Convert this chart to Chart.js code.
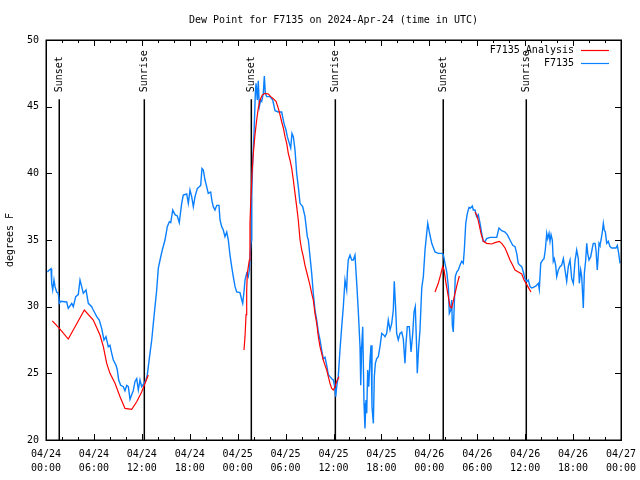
<!DOCTYPE html>
<html>
<head>
<meta charset="utf-8">
<script src="https://cdn.jsdelivr.net/npm/chart.js@4.4.1/dist/chart.umd.min.js"></script>
<style>
  html, body { margin: 0; padding: 0; background: #fff; }
  #wrap { width: 640px; height: 480px; }
</style>
</head>
<body>
<div id="wrap"><canvas id="myChart" width="640" height="480"></canvas></div>
<script>
// hours since 2024-04-24 00:00 UTC
const obsHours = [0.16,0.41,0.63,0.71,0.84,1.00,1.13,1.34,1.54,1.67,1.84,2.59,2.79,3.22,3.42,3.72,4.04,4.26,4.47,4.67,5.01,5.30,5.72,5.92,6.35,6.67,6.97,7.26,7.51,7.80,8.01,8.23,8.43,8.77,8.93,9.10,9.35,9.68,9.89,10.11,10.31,10.52,10.73,10.93,11.14,11.36,11.56,11.77,11.98,12.27,12.52,12.68,12.81,13.02,13.24,13.44,13.65,13.86,14.06,14.28,14.56,14.90,15.19,15.44,15.62,15.87,16.15,16.44,16.69,16.99,17.19,17.62,17.82,18.03,18.24,18.45,18.66,18.95,19.20,19.37,19.53,19.70,19.91,20.12,20.32,20.62,20.79,20.95,21.16,21.38,21.66,21.79,22.00,22.20,22.41,22.63,22.83,23.04,23.25,23.45,23.67,23.88,24.29,24.51,24.63,24.79,24.92,25.13,25.33,25.46,25.63,25.70,25.76,25.88,26.05,26.21,26.30,26.46,26.58,26.71,26.88,27.01,27.21,27.34,27.46,27.64,28.05,28.39,28.68,29.09,29.51,29.80,30.05,30.22,30.47,30.64,30.80,30.97,31.18,31.39,31.59,31.81,32.14,32.43,32.72,32.85,33.06,33.27,33.47,33.68,33.90,34.10,34.31,34.52,34.72,34.94,35.15,35.35,35.56,35.78,35.98,36.19,36.28,36.40,36.60,36.81,37.03,37.23,37.44,37.65,37.73,37.85,38.07,38.28,38.48,38.69,38.91,39.11,39.32,39.41,39.53,39.66,39.82,39.94,40.07,40.16,40.28,40.41,40.57,40.70,40.82,40.99,41.11,41.24,41.41,41.61,41.82,42.04,42.24,42.45,42.66,42.86,43.08,43.29,43.49,43.61,43.79,43.91,44.11,44.33,44.54,44.74,44.95,45.08,45.24,45.49,45.71,45.92,46.08,46.24,46.42,46.49,46.67,46.83,47.05,47.25,47.46,47.67,47.80,48.00,48.30,48.71,49.12,49.55,49.75,49.96,50.18,50.38,50.50,50.68,50.80,50.88,51.00,51.13,51.25,51.43,51.63,51.84,52.05,52.25,52.38,52.56,52.76,52.97,53.18,53.38,53.51,53.72,53.93,54.13,54.35,54.56,54.76,54.97,55.18,55.60,56.44,56.72,57.06,57.48,57.76,58.10,58.44,58.73,58.94,59.14,59.35,59.57,59.77,59.98,60.19,60.39,60.61,60.82,61.02,61.36,61.65,61.77,61.95,62.20,62.36,62.52,62.70,62.82,62.99,63.11,63.24,63.40,63.52,63.65,63.82,63.95,64.15,64.36,64.57,64.78,64.99,65.20,65.40,65.62,65.83,66.03,66.24,66.45,66.65,66.78,66.95,67.08,67.21,67.28,67.41,67.58,67.71,67.83,67.99,68.21,68.41,68.53,68.75,68.87,69.03,69.25,69.37,69.50,69.66,69.79,69.91,70.04,70.21,70.41,70.62,70.84,71.12,71.37,71.54,71.71,71.88];
const obsDew = [32.6,32.75,32.85,31.75,31.25,32.0,31.5,31.1,31.0,30.25,30.4,30.35,29.87,30.25,30.0,30.75,30.9,32.0,31.5,31.0,31.25,30.25,30.0,29.75,29.25,29.0,28.37,27.5,27.75,27.0,27.1,26.5,26.0,25.6,25.25,24.5,24.1,24.0,23.7,24.1,24.0,23.05,23.4,23.7,24.37,24.6,23.75,24.5,24.0,24.25,24.5,24.87,25.5,26.5,27.5,28.75,30.0,31.25,32.87,33.5,34.25,35.0,36.0,36.37,36.3,37.25,36.9,36.8,36.3,37.75,38.37,38.45,37.75,38.75,38.25,37.5,38.25,38.87,39.0,39.1,40.37,40.25,39.5,39.0,38.5,38.6,37.9,37.5,37.25,37.6,37.6,36.5,36.0,35.75,35.25,35.6,35.0,33.87,33.0,32.25,31.5,31.1,31.05,30.5,30.25,31.1,32.0,32.5,32.25,32.75,34.5,35.0,38.25,40.87,43.0,46.0,46.75,45.5,46.95,45.0,45.5,45.4,46.0,47.3,46.0,45.75,45.75,45.5,44.7,44.6,44.6,43.75,43.25,42.75,42.25,41.9,43.0,42.75,41.75,40.0,39.0,37.75,37.5,36.75,35.25,35.0,33.75,32.5,31.0,29.75,29.0,28.1,27.5,26.75,26.1,26.2,25.6,24.9,24.75,24.6,24.5,23.87,23.25,24.0,24.75,26.75,28.5,30.0,32.0,31.25,32.5,33.5,33.87,33.5,33.5,33.87,31.75,29.6,27.0,24.1,27.0,28.5,22.75,20.87,23.0,22.0,25.25,24.0,26.0,27.1,22.5,21.25,24.75,25.75,26.1,26.25,27.0,28.0,27.9,27.75,28.0,29.0,28.25,28.75,29.75,31.9,29.75,28.0,27.5,28.0,28.1,27.6,25.75,27.25,28.5,28.5,26.6,28.0,29.6,30.0,26.75,25.0,27.0,28.25,31.4,32.25,34.25,35.5,36.25,35.6,34.75,34.1,34.0,34.0,33.9,33.25,32.6,31.5,29.5,29.75,30.5,28.6,28.1,30.25,32.25,32.6,32.75,33.1,33.4,33.25,34.25,36.25,37.0,37.45,37.4,37.55,37.25,37.25,36.75,36.9,36.25,35.5,34.9,34.9,35.1,35.2,35.2,35.9,35.7,35.6,35.4,35.0,34.6,34.5,34.0,33.25,33.1,33.0,32.6,32.1,31.9,32.0,31.5,31.4,31.45,31.55,31.75,31.3,33.25,33.5,33.6,34.25,35.5,35.1,35.5,34.9,35.4,35.0,33.4,33.6,33.1,32.25,32.75,33.0,33.1,33.6,32.75,31.9,33.0,33.5,32.1,31.75,33.4,34.25,33.6,31.75,32.75,32.25,30.75,29.9,32.5,33.5,34.75,34.0,33.5,33.75,34.4,34.75,34.75,34.25,32.75,34.75,34.6,35.0,35.6,36.25,35.75,35.6,34.75,34.9,34.5,34.4,34.4,34.4,34.6,34.0,33.25];

// analysis series, null = gap
const anaHours = [0.79,1.67,2.79,4.80,5.92,6.76,7.18,7.60,8.01,8.64,9.27,9.89,10.73,11.36,11.98,12.81,13.5,
  24.79,24.92,25.05,25.13,25.21,25.46,25.54,25.63,25.80,25.96,26.17,26.38,26.58,26.80,27.08,27.42,27.84,28.14,28.46,28.80,29.09,29.30,29.51,29.72,29.93,30.14,30.34,30.55,30.77,30.97,31.18,31.39,31.59,31.81,32.02,32.22,32.43,32.64,32.85,33.06,33.27,33.47,33.68,33.90,34.10,34.31,34.52,34.72,34.94,35.15,35.35,35.56,35.78,35.98,36.19,36.40,36.69,40,
  48.71,49.12,49.42,49.67,49.84,50.09,50.38,50.59,50.80,51.22,51.51,51.76,52.5,
  53.72,54.01,54.26,54.47,54.76,55.18,55.81,56.22,56.76,57.06,57.48,57.76,58.10,58.44,58.73,59.14,59.57,59.86,60.11,60.39,60.73];
const anaDew = [28.93,28.37,27.57,29.75,29.0,27.87,27.0,25.75,25.0,24.25,23.25,22.37,22.3,22.87,23.6,24.87,null,
  26.75,27.75,29.4,31.25,32.5,33.5,36.25,37.75,40.0,41.5,42.9,44.0,44.87,45.5,45.87,46.0,45.95,45.75,45.6,45.4,44.87,44.4,43.87,43.4,42.75,42.25,41.5,41.0,40.37,39.5,38.5,37.5,36.5,35.0,34.25,33.75,33.1,32.6,32.1,31.6,31.0,30.5,29.5,28.75,27.75,27.0,26.5,26.0,25.6,25.25,24.75,24.25,23.87,23.75,24.0,24.4,24.75,null,
  31.1,31.75,32.4,33.0,32.75,31.75,30.75,30.0,29.9,31.0,31.75,32.3,null,
  37.1,36.75,36.1,35.5,34.9,34.75,34.7,34.8,34.9,34.75,34.4,34.0,33.5,33.1,32.75,32.6,32.45,32.0,31.75,31.45,31.1];

const sunHours = [1.66, 12.31, 25.71, 36.23, 49.74, 60.14];
const sunLabels = ["Sunset", "Sunrise", "Sunset", "Sunrise", "Sunset", "Sunrise"];
const sunLineTop = 45.55;

const tickDates = ["04/24","04/24","04/24","04/24","04/25","04/25","04/25","04/25","04/26","04/26","04/26","04/26","04/27"];
const tickTimes = ["00:00","06:00","12:00","18:00","00:00","06:00","12:00","18:00","00:00","06:00","12:00","18:00","00:00"];

const FONT = "'DejaVu Sans Mono', 'Liberation Mono', monospace";
Chart.defaults.font.family = FONT;
Chart.defaults.font.size = 10;
Chart.defaults.color = "#000";

const RED = "#ff0000";
const BLUE = "#0a80ff";

function pairs(xs, ys) {
  return xs.map((x, i) => ({ x: x, y: ys[i] }));
}

const sunSets = sunHours.map((h, i) => ({
  label: sunLabels[i],
  data: [{ x: h, y: 20 }, { x: h, y: sunLineTop }],
  borderColor: "#000",
  borderWidth: 1.5,
  pointRadius: 0,
  sunLabel: true
}));

// frame, inward ticks, legend, title and sun labels
const decorPlugin = {
  id: "decor",
  afterDraw(chart) {
    const ctx = chart.ctx;
    const a = chart.chartArea;
    const xs = chart.scales.x;
    const ys = chart.scales.y;
    ctx.save();
    ctx.strokeStyle = "#000";
    ctx.lineWidth = 1;
    ctx.beginPath();
    for (let h = 0; h <= 72; h += 2) {
      const px = Math.round(xs.getPixelForValue(h)) + 0.5;
      const len = h % 6 === 0 ? 6 : 3;
      ctx.moveTo(px, a.bottom); ctx.lineTo(px, a.bottom - len);
      ctx.moveTo(px, a.top); ctx.lineTo(px, a.top + len);
    }
    for (let v = 20; v <= 50; v += 5) {
      const py = Math.round(ys.getPixelForValue(v)) + 0.5;
      ctx.moveTo(a.left, py); ctx.lineTo(a.left + 6, py);
      ctx.moveTo(a.right, py); ctx.lineTo(a.right - 6, py);
    }
    ctx.stroke();
    ctx.lineWidth = 1.5;
    ctx.strokeRect(Math.round(a.left) + 0.25, Math.round(a.top) + 0.25, Math.round(a.right - a.left), Math.round(a.bottom - a.top));

    ctx.font = "10px " + FONT;
    ctx.fillStyle = "#000";
    // title
    ctx.textAlign = "center";
    ctx.textBaseline = "middle";
    ctx.fillText("Dew Point for F7135 on 2024-Apr-24 (time in UTC)", (a.left + a.right) / 2, 20);

    // sunrise / sunset labels
    chart.data.datasets.forEach((ds) => {
      if (!ds.sunLabel) return;
      const px = xs.getPixelForValue(ds.data[0].x);
      ctx.save();
      ctx.translate(px, ys.getPixelForValue(ds.data[1].y) - 7);
      ctx.rotate(-Math.PI / 2);
      ctx.textAlign = "left";
      ctx.textBaseline = "middle";
      ctx.fillText(ds.label, 0, 0);
      ctx.restore();
    });

    // legend
    const items = chart.data.datasets.filter((ds) => !ds.sunLabel);
    items.forEach((ds, i) => {
      const y = a.top + 10 + i * 13;
      ctx.textAlign = "right";
      ctx.textBaseline = "middle";
      ctx.fillText(ds.label, a.right - 47, y);
      ctx.strokeStyle = ds.borderColor;
      ctx.lineWidth = 1.2;
      ctx.beginPath();
      ctx.moveTo(a.right - 40, y + 0.5);
      ctx.lineTo(a.right - 12, y + 0.5);
      ctx.stroke();
    });
    ctx.restore();
  }
};

const ctx = document.getElementById("myChart").getContext("2d");
new Chart(ctx, {
  type: "line",
  data: {
    datasets: [
      {
        label: "F7135 Analysis",
        data: pairs(anaHours, anaDew),
        borderColor: RED,
        borderWidth: 1.2,
        pointRadius: 0,
        spanGaps: false
      },
      {
        label: "F7135",
        data: pairs(obsHours, obsDew),
        borderColor: BLUE,
        borderWidth: 1.4,
        pointRadius: 0
      },
      ...sunSets
    ]
  },
  options: {
    responsive: false,
    animation: false,
    events: [],
    layout: { padding: { top: 40, right: 19, left: 0, bottom: 0 } },
    elements: { line: { tension: 0 } },
    plugins: {
      legend: { display: false },
      tooltip: { enabled: false },
      title: { display: false }
    },
    scales: {
      x: {
        type: "linear",
        min: 0,
        max: 72,
        grid: { display: false, drawTicks: false },
        border: { display: false },
        afterFit: (s) => {
          s.height = 40;
          s.paddingLeft = 0;
          s.paddingRight = 0;
        },
        ticks: {
          stepSize: 6,
          autoSkip: false,
          maxRotation: 0,
          padding: 7,
          font: { size: 10, lineHeight: 1.4 },
          callback: (value) => {
            const i = Math.round(value / 6);
            return [tickDates[i], tickTimes[i]];
          }
        }
      },
      y: {
        min: 20,
        max: 50,
        grid: { display: false, drawTicks: false },
        border: { display: false },
        afterFit: (s) => {
          s.width = 46;
          s.paddingTop = 0;
          s.paddingBottom = 0;
        },
        ticks: { stepSize: 5, padding: 7 },
        title: {
          display: true,
          text: "degrees F",
          padding: { top: 4, bottom: 0 },
          font: { size: 10 }
        }
      }
    }
  },
  plugins: [decorPlugin]
});
</script>
</body>
</html>
